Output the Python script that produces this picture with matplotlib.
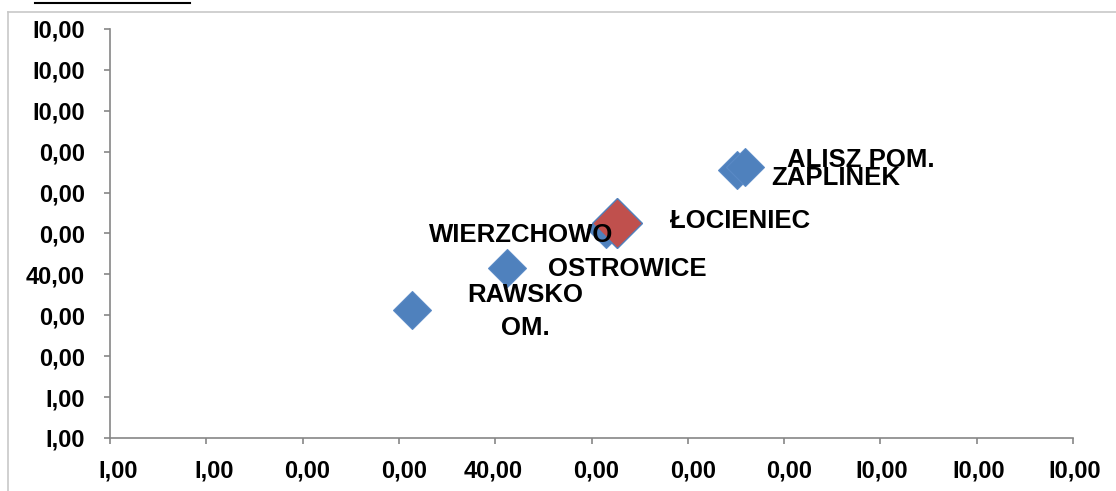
import matplotlib
matplotlib.use("Agg")
import matplotlib.pyplot as plt
from matplotlib.lines import Line2D
from matplotlib.transforms import ScaledTranslation

plt.rcParams['font.family'] = ['Liberation Sans', 'DejaVu Sans']

# gminy (x, y)
names = ["ALISZ POM.", "ZAPLINEK", "WIERZCHOWO", "OSTROWICE", "RAWSKO\nOM."]
x_vals = [65.9, 65.1, 51.5, 41.2, 31.4]
y_vals = [66.3, 65.5, 51.1, 41.6, 31.3]

# wyróżniony punkt
hl_name = "ŁOCIENIEC"
hl_x = [52.6]
hl_y = [52.6]

ticks = [0, 10, 20, 30, 40, 50, 60, 70, 80, 90, 100]
x_ticklabels = ["I,00", "I,00", "0,00", "0,00", "40,00", "0,00", "0,00", "0,00", "I0,00", "I0,00", "I0,00"]
y_ticklabels = ["I,00", "I,00", "0,00", "0,00", "40,00", "0,00", "0,00", "0,00", "I0,00", "I0,00", "I0,00"]

# przesunięcia etykiet (w punktach)
label_offsets = [(84, 5), (71, -6), (-61, -4), (87, -1), (81, -1)]
hl_offset = (89, 1)

BLUE = '#4F81BD'
RED = '#C0504D'
AXIS = '#868686'

fig = plt.figure(figsize=(11.16, 4.91), dpi=100)
ax = fig.add_axes([110 / 1116, 53 / 491, 963 / 1116, 409 / 491])

ax.plot(x_vals[2:], y_vals[2:], 'D', ms=19.5, color=BLUE, mec='#5A8AC6', mew=0.8, zorder=3)
ax.plot(hl_x, hl_y, 'D', ms=25.5, color=RED, mec=BLUE, mew=1.0, zorder=4)
ax.plot(x_vals[:2][::-1], y_vals[:2][::-1], 'D', ms=19.5, color=BLUE, mec='#5A8AC6', mew=0.8, zorder=3)

for name, x, y, off in zip(names, x_vals, y_vals, label_offsets):
    ax.annotate(name, (x, y), xytext=off, textcoords='offset points',
                ha='center', va='center', multialignment='center', linespacing=1.45,
                fontsize=18.5, fontweight='bold', color='black', zorder=5)
ax.annotate(hl_name, (hl_x[0], hl_y[0]), xytext=hl_offset, textcoords='offset points',
            ha='center', va='center', fontsize=18.5, fontweight='bold', color='black', zorder=5)

ax.set_xlim(0, 100)
ax.set_ylim(0, 100)
ax.set_xticks(ticks, x_ticklabels)
ax.set_yticks(ticks, y_ticklabels)

for side in ['top', 'right']:
    ax.spines[side].set_visible(False)
for side in ['left', 'bottom']:
    ax.spines[side].set_color(AXIS)
    ax.spines[side].set_linewidth(1.2)
ax.tick_params(axis='both', direction='out', length=4.5, width=1.2, color=AXIS,
               labelsize=17, labelcolor='black')
ax.tick_params(axis='y', pad=13.5)
ax.tick_params(axis='x', pad=11)
for lbl in ax.get_yticklabels() + ax.get_xticklabels():
    lbl.set_fontweight('bold')

# etykiety osi X wyrównane do prawej, jak w Excelu
shift = ScaledTranslation(28 / 100, 0, fig.dpi_scale_trans)
for lbl in ax.get_xticklabels():
    lbl.set_horizontalalignment('right')
    lbl.set_transform(lbl.get_transform() + shift)

ax.set_clip_on(False)
for line in ax.lines:
    line.set_clip_on(False)

# ramka obszaru wykresu i linia u góry
fig.add_artist(Line2D([8 / 1116, 8 / 1116], [0, 1 - 12 / 491], color='#C8C8C8', lw=1.2))
fig.add_artist(Line2D([8 / 1116, 1], [1 - 12 / 491, 1 - 12 / 491], color='#C8C8C8', lw=1.2))
fig.add_artist(Line2D([35 / 1116, 190 / 1116], [1 - 3 / 491, 1 - 3 / 491], color='black', lw=1.5))

fig.savefig('out.png', dpi=100)
